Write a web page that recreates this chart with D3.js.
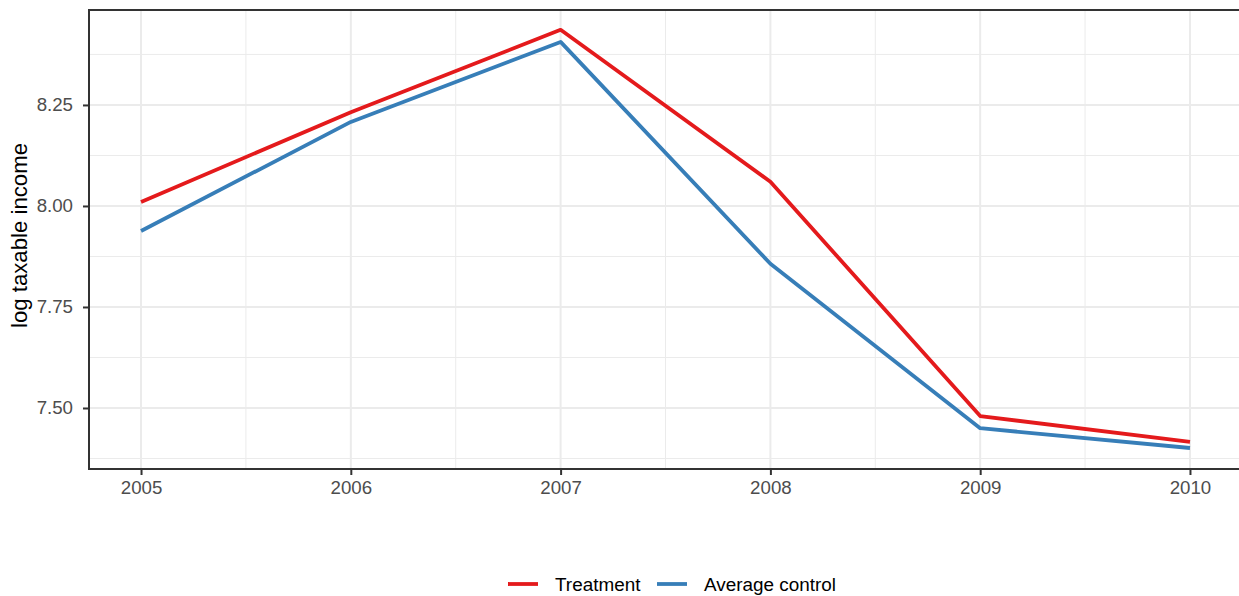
<!DOCTYPE html>
<html><head><meta charset="utf-8">
<script src="https://cdn.jsdelivr.net/npm/d3@7"></script>
<style>
html,body{margin:0;padding:0;background:#fff;}
svg{display:block;font-family:"Liberation Sans",Arial,sans-serif;}
</style></head>
<body>
<svg id="chart" width="1239" height="596"></svg>
<script>
const years = [2005, 2006, 2007, 2008, 2009, 2010];
const treatment = [8.010, 8.232, 8.436, 8.060, 7.480, 7.416];
const control = [7.938, 8.208, 8.406, 7.857, 7.450, 7.401];
const seriesNames = ["Treatment", "Average control"];
const seriesColors = ["#E41A1C", "#377EB8"];
const yTicks = [7.50, 7.75, 8.00, 8.25];
const yMinor = [7.375, 7.625, 7.875, 8.125, 8.375];
const xMinor = [2005.5, 2006.5, 2007.5, 2008.5, 2009.5];

const svg = d3.select("#chart");
const L = 89, T = 10, B = 469, R = 1242;
const x = d3.scaleLinear().domain([2004.752, 2010.248]).range([L, R]);
const y = d3.scaleLinear().domain([7.349, 8.485]).range([B, T]);

const g = svg.append("g");
g.selectAll(".ymin").data(yMinor).join("line")
  .attr("x1", L).attr("x2", R).attr("y1", d => y(d)).attr("y2", d => y(d))
  .attr("stroke", "#ebebeb").attr("stroke-width", 1);
g.selectAll(".xmin").data(xMinor).join("line")
  .attr("y1", T).attr("y2", B).attr("x1", d => x(d)).attr("x2", d => x(d))
  .attr("stroke", "#ebebeb").attr("stroke-width", 1);
g.selectAll(".ymaj").data(yTicks).join("line")
  .attr("x1", L).attr("x2", R).attr("y1", d => y(d)).attr("y2", d => y(d))
  .attr("stroke", "#ebebeb").attr("stroke-width", 2);
g.selectAll(".xmaj").data(years).join("line")
  .attr("y1", T).attr("y2", B).attr("x1", d => x(d)).attr("x2", d => x(d))
  .attr("stroke", "#ebebeb").attr("stroke-width", 2);

const series = [treatment, control];
const line = d3.line().x((d, i) => x(years[i])).y(d => y(d));
series.forEach((s, k) => {
  g.append("path").datum(s).attr("d", line)
    .attr("fill", "none").attr("stroke", seriesColors[k])
    .attr("stroke-width", 3.8).attr("stroke-linejoin", "round");
});

g.append("rect").attr("x", L).attr("y", T).attr("width", R - L).attr("height", B - T)
  .attr("fill", "none").attr("stroke", "#333333").attr("stroke-width", 2);

const xAxis = d3.axisBottom(x).tickValues(years).tickFormat(d3.format("d")).tickSize(6).tickPadding(6);
const xa = svg.append("g").attr("transform", `translate(0,${B})`).call(xAxis);
xa.select(".domain").remove();
xa.selectAll(".tick line").attr("stroke", "#333333").attr("stroke-width", 2);
xa.selectAll(".tick text").attr("fill", "#4d4d4d").style("font-size", "18.7px")
  .attr("dy", "0.71em").attr("y", 12);

const yAxis = d3.axisLeft(y).tickValues(yTicks).tickFormat(d3.format(".2f")).tickSize(6).tickPadding(6);
const ya = svg.append("g").attr("transform", `translate(${L},0)`).call(yAxis);
ya.select(".domain").remove();
ya.selectAll(".tick line").attr("stroke", "#333333").attr("stroke-width", 2);
ya.selectAll(".tick text").attr("fill", "#4d4d4d").style("font-size", "18.7px").attr("x", -16);

svg.append("text").attr("transform", `translate(27,${(T + B) / 2 - 4}) rotate(-90)`)
  .attr("text-anchor", "middle").style("font-size", "22.2px").attr("fill", "#000")
  .text("log taxable income");

const legend = svg.append("g");
const legX = [508, 657];
seriesNames.forEach((n, k) => {
  legend.append("line").attr("x1", legX[k]).attr("x2", legX[k] + 30)
    .attr("y1", 584).attr("y2", 584).attr("stroke", seriesColors[k]).attr("stroke-width", 3.8);
  legend.append("text").attr("x", legX[k] + 47).attr("y", 584).attr("dy", "0.35em")
    .style("font-size", "18.9px").attr("fill", "#000").text(n);
});
</script>
</body></html>
